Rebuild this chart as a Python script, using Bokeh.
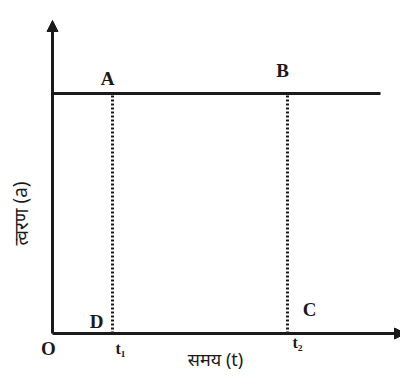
from bokeh.plotting import figure
from bokeh.models import Range1d, Arrow, NormalHead, Label
from bokeh.embed import file_html
from bokeh.resources import INLINE

# Conceptual data (units: arbitrary, origin at O)
t_axis_end = 353
a_axis_end = 313
a_const = 240
t_line = [0, 328]
t1 = 60
t2 = 235
point_labels = ["A", "B", "C", "D"]
x_label = "समय (t)"
y_label = "त्वरण (a)"

p = figure(width=400, height=373, output_backend="svg", toolbar_location=None,
           x_range=Range1d(-52, 348), y_range=Range1d(-40, 333),
           min_border=0)
p.axis.visible = False
p.grid.visible = False
p.outline_line_color = None
p.background_fill_color = "white"

ink = "#1a1a1a"

# axes with arrows
p.add_layout(Arrow(end=NormalHead(size=11, fill_color=ink, line_color=ink),
                   x_start=0, y_start=0, x_end=0, y_end=a_axis_end,
                   line_width=3, line_color=ink))
p.add_layout(Arrow(end=NormalHead(size=11, fill_color=ink, line_color=ink),
                   x_start=0, y_start=0, x_end=t_axis_end, y_end=0,
                   line_width=3, line_color=ink))

# constant acceleration line
p.line(t_line, [a_const, a_const], line_width=3, line_color=ink)

# dotted verticals
for t in (t1, t2):
    p.line([t, t], [0, a_const], line_width=3, line_color=ink, line_dash="2 2")

font = "Liberation Serif"
def lab(x, y, text, size="19px", **kw):
    p.add_layout(Label(x=x, y=y, text=text, text_font=font, text_font_size=size,
                       text_font_style="bold", text_color=ink,
                       text_align="center", text_baseline="middle", **kw))

lab(t1 - 5, a_const + 15, point_labels[0])
lab(t2 - 5, a_const + 23, point_labels[1])
lab(t2 + 22, 24, point_labels[2])
lab(t1 - 16, 12, point_labels[3])
lab(-4, -15, "O")
lab(t1 + 8, -15, "t₁", size="16px")
lab(t2 + 10, -9, "t₂", size="16px")

p.add_layout(Label(x=163, y=-25, text=x_label, text_font="Noto Sans",
                   text_font_size="18px", text_color=ink,
                   text_align="center", text_baseline="middle"))
p.add_layout(Label(x=-32, y=120, text=y_label, text_font="Noto Sans",
                   text_font_size="19px", text_color=ink,
                   text_align="center", text_baseline="middle", angle=1.5708))

open("out.html", "w").write(file_html(p, INLINE))
